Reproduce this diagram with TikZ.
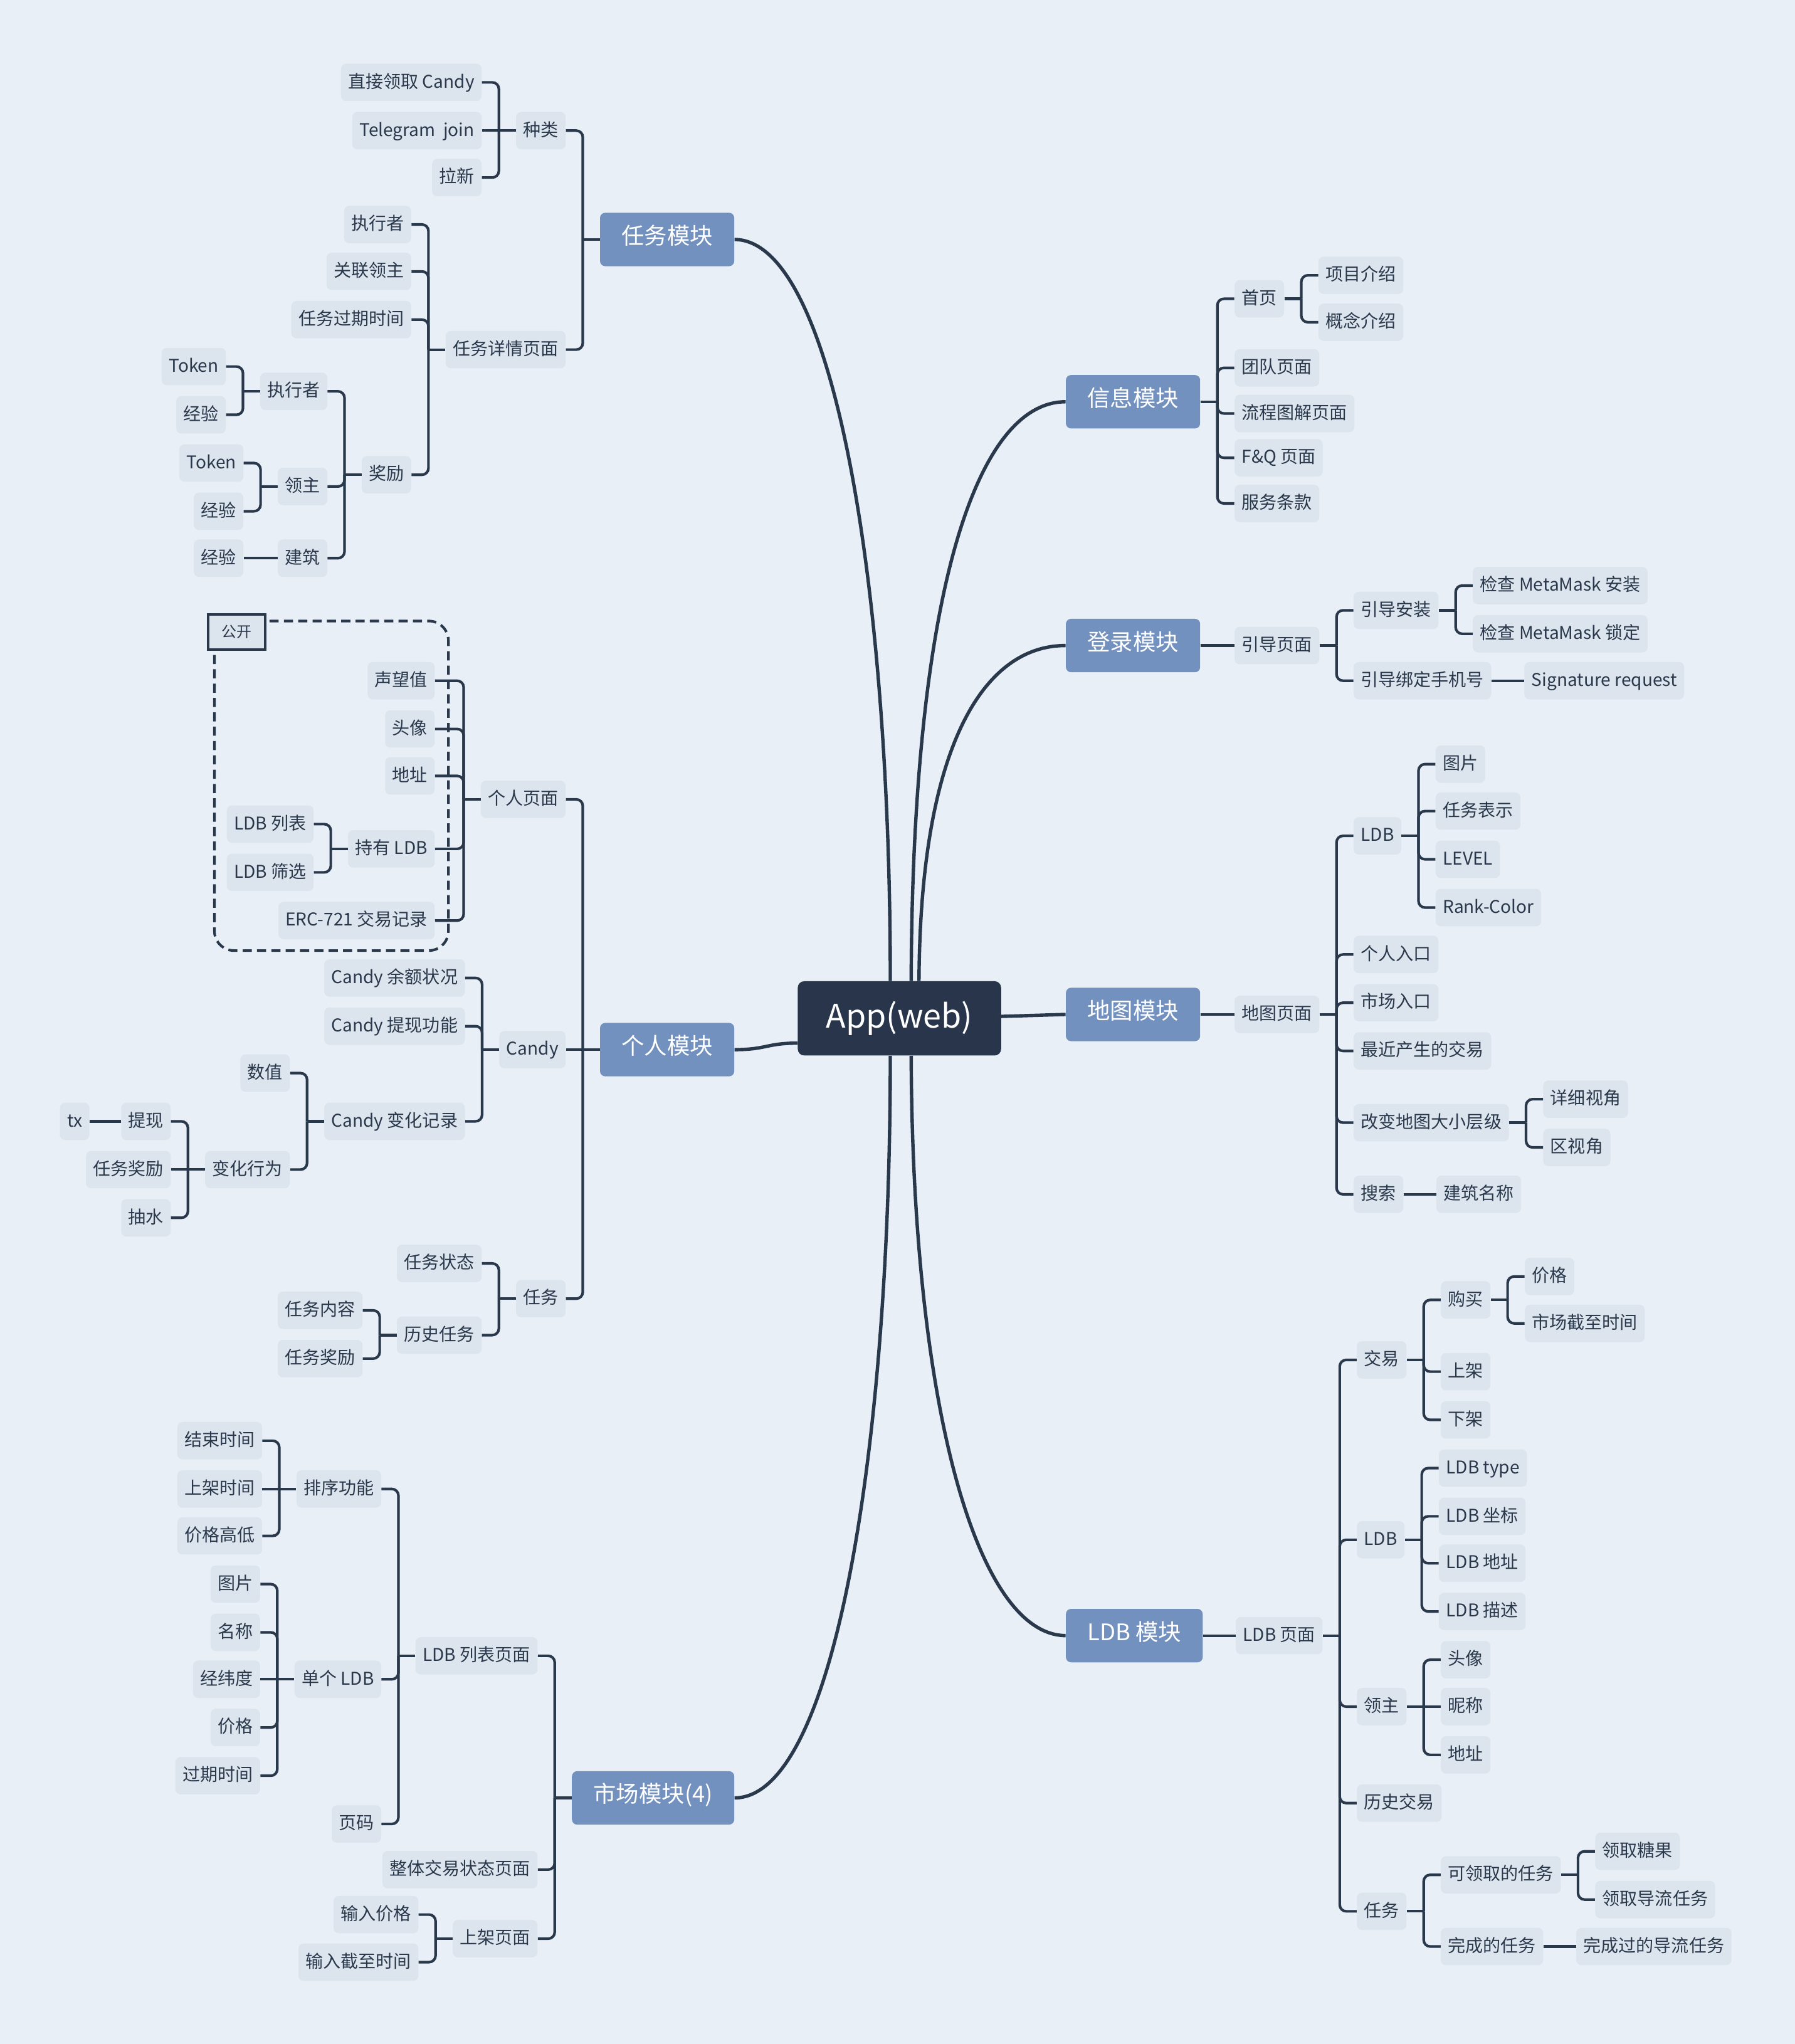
\documentclass[tikz,border=0pt]{standalone}
\usepackage{fontspec}
\setmainfont{Noto Sans CJK SC}
\usetikzlibrary{calc}

\definecolor{bg}{HTML}{E8EFF7}
\definecolor{leaffill}{HTML}{DCE4ED}
\definecolor{ink}{HTML}{2A384C}
\definecolor{modblue}{HTML}{7391BF}
\definecolor{rootfill}{HTML}{28354A}

\tikzset{
  leaf/.style={fill=leaffill, text=ink, rounded corners=4pt, inner xsep=5.5pt, inner ysep=0pt,
    minimum height=28.7pt, text height=1.0em, text depth=0.16em, font=\fontsize{13.5}{16}\selectfont},
  mod/.style={fill=modblue, text=white, rounded corners=4pt, inner xsep=16.5pt, inner ysep=0pt,
    minimum height=41pt, text height=0.88em, text depth=0.16em, font=\fontsize{17.5}{20}\selectfont},
  root/.style={fill=rootfill, text=white, rounded corners=5pt, minimum width=156pt,
    minimum height=57pt, font=\fontsize{25}{30}\selectfont},
  conn/.style={draw=ink, line width=2pt},
  trunk/.style={draw=ink, line width=2.6pt},
  pubbox/.style={draw=ink, line width=2pt, dash pattern=on 7pt off 4pt, rounded corners=15pt},
  publabel/.style={draw=ink, line width=2pt, fill=leaffill, text=ink, minimum width=44pt,
    minimum height=27pt, inner sep=0pt, font=\fontsize{11.5}{13}\selectfont},
}

% child placed left / right of its parent: [gap]{name}{parent}{y}{text}
\newcommand\Lk[5][26]{\path let \p1=(#3.west) in node[leaf,anchor=east] (#2) at (\x1-#1pt,-#4pt) {#5};}
\newcommand\Rk[5][26]{\path let \p1=(#3.east) in node[leaf,anchor=west] (#2) at (\x1+#1pt,-#4pt) {#5};}
% bracket connectors: {parent}{children}
\newcommand\Lbr[2]{%
  \coordinate (#1-s) at ([xshift=-13pt]#1.west);
  \draw[conn] (#1.west) -- (#1-s);
  \foreach \kd in {#2} {\draw[conn,rounded corners=5pt] (\kd.east) -| (#1-s);}}
\newcommand\Rbr[2]{%
  \coordinate (#1-s) at ([xshift=13pt]#1.east);
  \draw[conn] (#1.east) -- (#1-s);
  \foreach \kd in {#2} {\draw[conn,rounded corners=5pt] (\kd.west) -| (#1-s);}}

\begin{document}
\begin{tikzpicture}[x=1pt,y=-1pt]
\useasboundingbox[fill=bg] (0,0) rectangle (1377,1568);

\begin{scope}[yshift=-1.2pt]
% ---------- centre and modules ----------
\node[root] (app) at (690,780) {App(web)};
\node[mod,anchor=east] (rw) at (563.5,182.5) {任务模块};
\node[mod,anchor=east] (gr) at (563.5,804) {个人模块};
\node[mod,anchor=east] (sc) at (563.5,1378) {市场模块(4)};
\node[mod,anchor=west] (xx) at (817.5,307) {信息模块};
\node[mod,anchor=west] (dl) at (817.5,494) {登录模块};
\node[mod,anchor=west] (dt) at (817.5,777) {地图模块};
\node[mod,anchor=west] (lm) at (817.5,1253.5) {LDB 模块};

\draw[trunk] ([xshift=-7pt]app.north) .. controls (683,450) and (640,183) .. (rw.east);
\draw[trunk] ([xshift=9pt]app.north) .. controls (700,450) and (750,307) .. (xx.west);
\draw[trunk] ([xshift=15pt]app.north) .. controls (706,570) and (755,494) .. (dl.west);
\draw[trunk] ([yshift=-19pt]app.west) .. controls (588,799) and (588,804) .. (gr.east);
\draw[trunk] ([yshift=1.5pt]app.east) -- (dt.west);
\draw[trunk] ([xshift=-7pt]app.south) .. controls (683,1110) and (640,1378) .. (sc.east);
\draw[trunk] ([xshift=9pt]app.south) .. controls (700,1080) and (750,1253) .. (lm.west);

% ---------- 任务模块 ----------
\Lk{rwA}{rw}{99}{种类}
\Lk{rwB}{rw}{267}{任务详情页面}
\Lk{rwA1}{rwA}{62}{直接领取 Candy}
\Lk{rwA2}{rwA}{99}{Telegram\ \ join}
\Lk{rwA3}{rwA}{135}{拉新}
\Lk{rwB1}{rwB}{171}{执行者}
\Lk{rwB2}{rwB}{207}{关联领主}
\Lk{rwB3}{rwB}{244}{任务过期时间}
\Lk{rwB4}{rwB}{363}{奖励}
\Lk{rwC1}{rwB4}{299}{执行者}
\Lk{rwC2}{rwB4}{372}{领主}
\Lk{rwC3}{rwB4}{427}{建筑}
\Lk{rwD1}{rwC1}{280}{Token}
\Lk{rwD2}{rwC1}{317}{经验}
\Lk{rwE1}{rwC2}{354}{Token}
\Lk{rwE2}{rwC2}{391}{经验}
\Lk{rwF1}{rwC3}{427}{经验}

\Lbr{rw}{rwA,rwB}
\Lbr{rwA}{rwA1,rwA3}
\draw[conn] (rwA2.east) -- (rwA-s);
\Lbr{rwB}{rwB1,rwB2,rwB3,rwB4}
\Lbr{rwB4}{rwC1,rwC2,rwC3}
\Lbr{rwC1}{rwD1,rwD2}
\Lbr{rwC2}{rwE1,rwE2}
\draw[conn] (rwC3.west) -- (rwF1.east);

% ---------- 个人模块 ----------
\draw[pubbox] (164.5,475.2) rectangle (344,728);

\Lk{grA}{gr}{612}{个人页面}
\Lk{grB}{gr}{804}{Candy}
\Lk{grC}{gr}{995}{任务}
\Lk[35]{grA1}{grA}{521}{声望值}
\Lk[35]{grA2}{grA}{558}{头像}
\Lk[35]{grA3}{grA}{594}{地址}
\Lk[35]{grA4}{grA}{650}{持有 LDB}
\Lk[35]{grA5}{grA}{705}{ERC-721 交易记录}
\Lk{grA41}{grA4}{631}{LDB 列表}
\Lk{grA42}{grA4}{668}{LDB 筛选}
\Lk{grB1}{grB}{749}{Candy 余额状况}
\Lk{grB2}{grB}{786}{Candy 提现功能}
\Lk{grB3}{grB}{859}{Candy 变化记录}
\Lk{grB31}{grB3}{822}{数值}
\Lk{grB32}{grB3}{896}{变化行为}
\Lk{grB321}{grB32}{859}{提现}
\Lk{grB322}{grB32}{896}{任务奖励}
\Lk{grB323}{grB32}{933}{抽水}
\Lk[24]{grTx}{grB321}{859}{tx}
\Lk{grC1}{grC}{968}{任务状态}
\Lk{grC2}{grC}{1023}{历史任务}
\Lk{grC21}{grC2}{1004}{任务内容}
\Lk{grC22}{grC2}{1041}{任务奖励}

\node[publabel] (pub) at (181.5,483.6) {公开};

\Lbr{gr}{grA,grC}
\draw[conn] (grB.east) -- (gr-s);
\Lbr{grA}{grA1,grA2,grA3,grA4,grA5}
\Lbr{grA4}{grA41,grA42}
\Lbr{grB}{grB1,grB2,grB3}
\Lbr{grB3}{grB31,grB32}
\Lbr{grB32}{grB321,grB323}
\draw[conn] (grB322.east) -- (grB32-s);
\draw[conn] (grB321.west) -- (grTx.east);
\Lbr{grC}{grC1,grC2}
\Lbr{grC2}{grC21,grC22}

% ---------- 市场模块 ----------
\Lk{scA}{sc}{1269}{LDB 列表页面}
\Lk{scB}{sc}{1433}{整体交易状态页面}
\Lk{scC}{sc}{1486}{上架页面}
\Lk{scA1}{scA}{1141}{排序功能}
\Lk{scA2}{scA}{1287}{单个 LDB}
\Lk{scA3}{scA}{1398}{页码}
\Lk{scA11}{scA1}{1104}{结束时间}
\Lk{scA12}{scA1}{1141}{上架时间}
\Lk{scA13}{scA1}{1177}{价格高低}
\Lk{scA21}{scA2}{1214}{图片}
\Lk{scA22}{scA2}{1251}{名称}
\Lk{scA23}{scA2}{1287}{经纬度}
\Lk{scA24}{scA2}{1324}{价格}
\Lk{scA25}{scA2}{1361}{过期时间}
\Lk{scC1}{scC}{1467.5}{输入价格}
\Lk{scC2}{scC}{1504}{输入截至时间}

\Lbr{sc}{scA,scB,scC}
\Lbr{scA}{scA1,scA2,scA3}
\Lbr{scA1}{scA11,scA13}
\draw[conn] (scA12.east) -- (scA1-s);
\Lbr{scA2}{scA21,scA22,scA24,scA25}
\draw[conn] (scA23.east) -- (scA2-s);
\Lbr{scC}{scC1,scC2}

% ---------- 信息模块 ----------
\Rk{xxA}{xx}{228}{首页}
\Rk{xxB}{xx}{281}{团队页面}
\Rk{xxC}{xx}{316}{流程图解页面}
\Rk{xxD}{xx}{350}{F\&Q 页面}
\Rk{xxE}{xx}{385}{服务条款}
\Rk{xxA1}{xxA}{210}{项目介绍}
\Rk{xxA2}{xxA}{246}{概念介绍}

\Rbr{xx}{xxA,xxB,xxC,xxD,xxE}
\Rbr{xxA}{xxA1,xxA2}

% ---------- 登录模块 ----------
\Rk{dlA}{dl}{494}{引导页面}
\Rk{dlA1}{dlA}{467}{引导安装}
\Rk{dlA2}{dlA}{521}{引导绑定手机号}
\Rk{dlA11}{dlA1}{448}{检查 MetaMask 安装}
\Rk{dlA12}{dlA1}{485}{检查 MetaMask 锁定}
\Rk[25]{dlA21}{dlA2}{521}{Signature request}

\draw[conn] (dl.east) -- (dlA.west);
\Rbr{dlA}{dlA1,dlA2}
\Rbr{dlA1}{dlA11,dlA12}
\draw[conn] (dlA2.east) -- (dlA21.west);

% ---------- 地图模块 ----------
\Rk{dtA}{dt}{777}{地图页面}
\Rk{dtA1}{dtA}{640}{LDB}
\Rk{dtA2}{dtA}{731}{个人入口}
\Rk{dtA3}{dtA}{768}{市场入口}
\Rk{dtA4}{dtA}{805}{最近产生的交易}
\Rk{dtA5}{dtA}{860}{改变地图大小层级}
\Rk{dtA6}{dtA}{915}{搜索}
\Rk{dtA11}{dtA1}{585}{图片}
\Rk{dtA12}{dtA1}{621}{任务表示}
\Rk{dtA13}{dtA1}{658}{LEVEL}
\Rk{dtA14}{dtA1}{695}{Rank-Color}
\Rk{dtA51}{dtA5}{842}{详细视角}
\Rk{dtA52}{dtA5}{879}{区视角}
\Rk[25]{dtA61}{dtA6}{915}{建筑名称}

\draw[conn] (dt.east) -- (dtA.west);
\Rbr{dtA}{dtA1,dtA2,dtA3,dtA4,dtA5,dtA6}
\Rbr{dtA1}{dtA11,dtA12,dtA13,dtA14}
\Rbr{dtA5}{dtA51,dtA52}
\draw[conn] (dtA6.east) -- (dtA61.west);

% ---------- LDB 模块 ----------
\Rk[25]{lmA}{lm}{1253.5}{LDB 页面}
\Rk{lmA1}{lmA}{1042}{交易}
\Rk{lmA2}{lmA}{1180}{LDB}
\Rk{lmA3}{lmA}{1308}{领主}
\Rk{lmA4}{lmA}{1382}{历史交易}
\Rk{lmA5}{lmA}{1465}{任务}
\Rk{lmA11}{lmA1}{996}{购买}
\Rk{lmA12}{lmA1}{1051}{上架}
\Rk{lmA13}{lmA1}{1088}{下架}
\Rk{lmA111}{lmA11}{978}{价格}
\Rk{lmA112}{lmA11}{1014}{市场截至时间}
\Rk{lmA21}{lmA2}{1125}{LDB type}
\Rk{lmA22}{lmA2}{1162}{LDB 坐标}
\Rk{lmA23}{lmA2}{1198}{LDB 地址}
\Rk{lmA24}{lmA2}{1235}{LDB 描述}
\Rk{lmA31}{lmA3}{1272}{头像}
\Rk{lmA32}{lmA3}{1308}{昵称}
\Rk{lmA33}{lmA3}{1345}{地址}
\Rk{lmA51}{lmA5}{1437}{可领取的任务}
\Rk{lmA52}{lmA5}{1492}{完成的任务}
\Rk{lmA511}{lmA51}{1419}{领取糖果}
\Rk{lmA512}{lmA51}{1456}{领取导流任务}
\Rk[25]{lmA521}{lmA52}{1492}{完成过的导流任务}

\draw[conn] (lm.east) -- (lmA.west);
\Rbr{lmA}{lmA1,lmA2,lmA3,lmA4,lmA5}
\Rbr{lmA1}{lmA11,lmA12,lmA13}
\Rbr{lmA11}{lmA111,lmA112}
\Rbr{lmA2}{lmA21,lmA22,lmA23,lmA24}
\Rbr{lmA3}{lmA31,lmA33}
\draw[conn] (lmA32.west) -- (lmA3-s);
\Rbr{lmA5}{lmA51,lmA52}
\Rbr{lmA51}{lmA511,lmA512}
\draw[conn] (lmA52.east) -- (lmA521.west);
\end{scope}
\end{tikzpicture}
\end{document}
